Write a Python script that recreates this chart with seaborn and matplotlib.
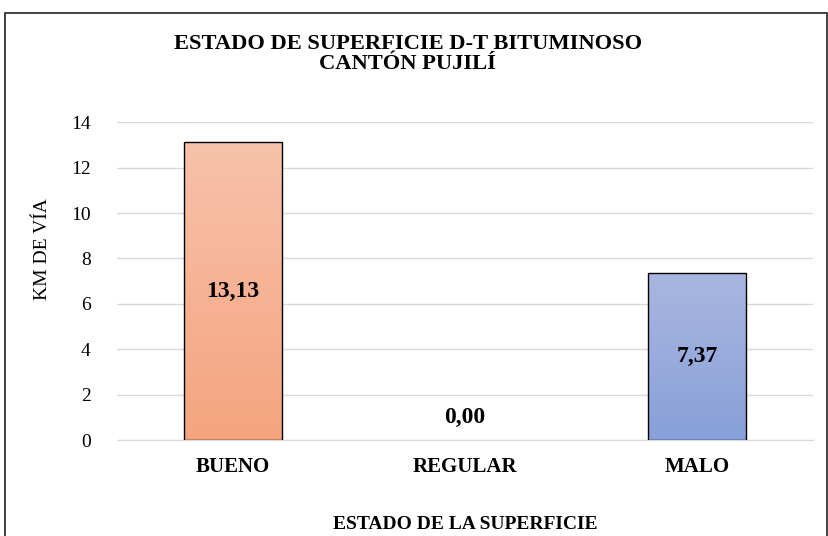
import numpy as np
import pandas as pd
import matplotlib
matplotlib.use("Agg")
import matplotlib.pyplot as plt
import seaborn as sns
from matplotlib.colors import LinearSegmentedColormap
from matplotlib.patches import Rectangle

# data
categories = ["BUENO", "REGULAR", "MALO"]
km_via = [13.13, 0.00, 7.37]
labels = ["13,13", "0,00", "7,37"]
top_colors = ["#F7C2AA", "#B0B0B0", "#A9B7E1"]
bottom_colors = ["#F5A47F", "#909090", "#88A0D8"]

sns.set_style("white")
plt.rcParams["font.family"] = ["Liberation Serif", "DejaVu Serif"]
plt.rcParams["text.color"] = "black"
plt.rcParams["axes.labelcolor"] = "black"
plt.rcParams["xtick.color"] = "black"
plt.rcParams["ytick.color"] = "black"

df = pd.DataFrame({"estado": categories, "km": km_via})

fig = plt.figure(figsize=(8.29, 5.36), dpi=100)
ax = fig.add_axes([0.141, 0.179, 0.840, 0.593])

sns.barplot(data=df, x="estado", y="km", hue="estado", palette=bottom_colors,
            width=0.42, legend=False, ax=ax, edgecolor="black", linewidth=1.0)

ax.set_ylim(0, 14)
ax.set_yticks(range(0, 15, 2))
ax.set_xlim(-0.5, 2.5)
ax.yaxis.grid(True, color="#D9D9D9", linewidth=1.0)
ax.set_axisbelow(True)
for s in ["top", "right", "left"]:
    ax.spines[s].set_visible(False)
ax.spines["bottom"].set_color("#D9D9D9")
ax.tick_params(axis="both", length=0)
ax.tick_params(axis="y", labelsize=14, pad=19)
ax.tick_params(axis="x", labelsize=15, pad=12)
for t in ax.get_xticklabels():
    t.set_fontweight("bold")

# gradient fill for each bar
bars = [p for p in ax.patches if isinstance(p, Rectangle)]
for patch, v, ct, cb in zip(bars, km_via, top_colors, bottom_colors):
    if v <= 0:
        patch.set_edgecolor("none")
        continue
    x0, w = patch.get_x(), patch.get_width()
    cmap = LinearSegmentedColormap.from_list("g", [cb, ct])
    grad = np.linspace(0, 1, 256).reshape(-1, 1)
    im = ax.imshow(grad, cmap=cmap, origin="lower", aspect="auto",
                   extent=[x0, x0 + w, 0, v], zorder=2)
    im.set_clip_path(patch)
    patch.set_facecolor("none")
    patch.set_zorder(3)
ax.set_xlim(-0.5, 2.5)
ax.set_ylim(0, 14)

for i, (v, lab) in enumerate(zip(km_via, labels)):
    ax.text(i, max(v / 2, 1.0), lab, ha="center", va="center",
            fontsize=17, fontweight="bold", zorder=5)

ax.set_ylabel("KM DE VÍA", fontsize=14, fontweight="normal")
ax.yaxis.set_label_coords(-0.094, 0.60)
ax.set_xlabel("ESTADO DE LA SUPERFICIE", fontsize=14, fontweight="bold", labelpad=28)

fig.text(0.492, 0.899, "ESTADO DE SUPERFICIE D-T BITUMINOSO\nCANTÓN PUJILÍ",
         ha="center", va="center", fontsize=16.2, fontweight="bold", linespacing=1.0)

fig.patches.append(Rectangle((0.006, -0.05), 0.992, 1.026, transform=fig.transFigure,
                             fill=False, edgecolor="#222222", linewidth=1.2))

fig.savefig("out.png", dpi=100)
